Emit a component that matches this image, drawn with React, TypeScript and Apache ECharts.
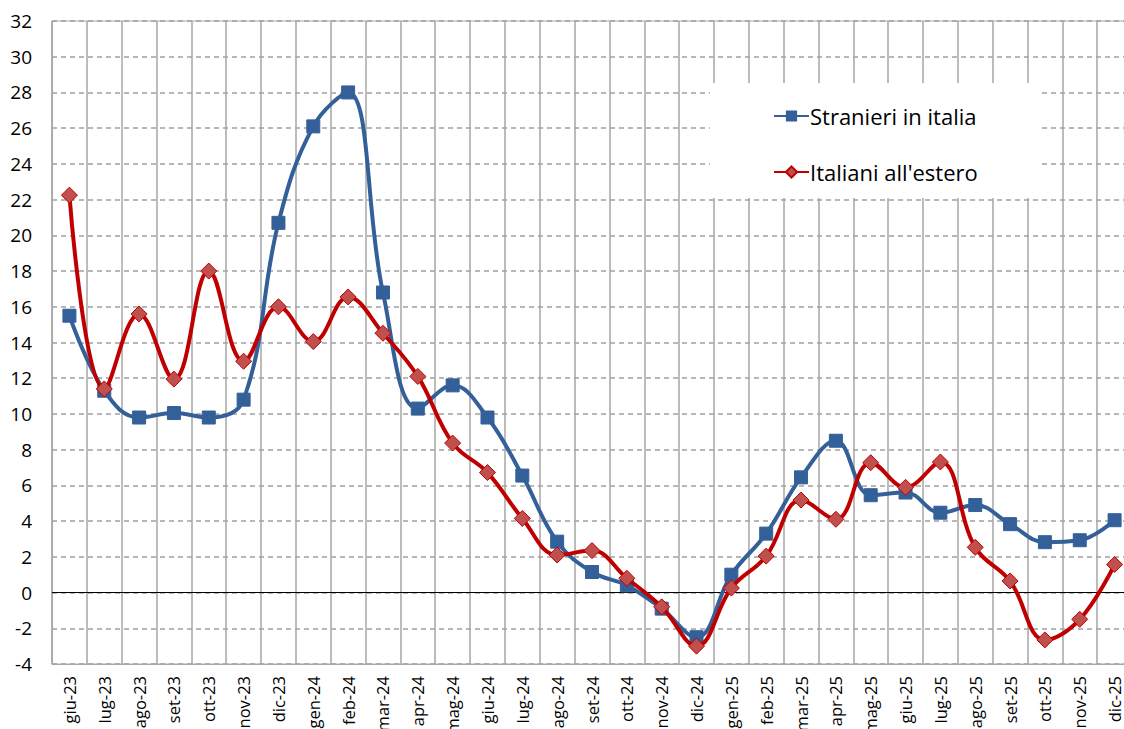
import React, { useEffect, useRef } from "react";
import * as echarts from "echarts";

const categories = [
  "giu-23", "lug-23", "ago-23", "set-23", "ott-23", "nov-23", "dic-23",
  "gen-24", "feb-24", "mar-24", "apr-24", "mag-24", "giu-24", "lug-24",
  "ago-24", "set-24", "ott-24", "nov-24", "dic-24",
  "gen-25", "feb-25", "mar-25", "apr-25", "mag-25", "giu-25", "lug-25",
  "ago-25", "set-25", "ott-25", "nov-25", "dic-25",
];

const stranieri = [
  15.5, 11.3, 9.8, 10.05, 9.8, 10.8, 20.7,
  26.1, 28.0, 16.8, 10.3, 11.6, 9.8, 6.55,
  2.85, 1.15, 0.4, -0.9, -2.5,
  1.0, 3.3, 6.45, 8.5, 5.45, 5.6, 4.47,
  4.9, 3.83, 2.82, 2.93, 4.05,
];

const italiani = [
  22.25, 11.4, 15.6, 11.95, 18.0, 12.95, 16.0,
  14.05, 16.55, 14.52, 12.1, 8.37, 6.72, 4.15,
  2.1, 2.35, 0.8, -0.8, -3.0,
  0.25, 2.04, 5.18, 4.1, 7.27, 5.89, 7.31,
  2.53, 0.65, -2.65, -1.5, 1.57,
];

const FONT = "'Open Sans', sans-serif";
const BLUE = "#34609A";
const RED = "#C00000";
const RED_FILL = "#C0504D";

export default function App() {
  const ref = useRef<HTMLDivElement>(null);
  useEffect(() => {
    if (!ref.current) return;
    const chart = echarts.init(ref.current, undefined, { renderer: "svg" });
    chart.setOption({
      animation: false,
      backgroundColor: "#ffffff",
      grid: {
        left: 52,
        right: -8,
        top: 21,
        bottom: 65,
        containLabel: false,
        outerBoundsMode: "none",
        show: true,
        borderColor: "#A6A6A6",
        borderWidth: 1,
        backgroundColor: "transparent",
      },
      graphic: [
        {
          type: "rect",
          left: 710,
          top: 83,
          shape: { width: 330, height: 115 },
          style: { fill: "#ffffff" },
          z: 3,
        },
      ],
      legend: {
        orient: "vertical",
        left: 768,
        top: 100,
        itemWidth: 35,
        itemHeight: 14,
        itemGap: 34,
        z: 10,
        textStyle: { fontFamily: FONT, fontSize: 22, color: "#000", padding: [0, 0, 0, -4] },
        data: ["Stranieri in italia", "Italiani all'estero"],
      },
      xAxis: {
        type: "category",
        data: categories,
        boundaryGap: true,
        axisLine: { onZero: false, lineStyle: { color: "#A6A6A6", width: 1 } },
        axisTick: { show: false },
        axisLabel: {
          rotate: 90,
          interval: 0,
          margin: 12,
          fontFamily: FONT,
          fontSize: 16.5,
          color: "#000",
        },
        splitLine: {
          show: true,
          interval: 0,
          lineStyle: { color: "#A6A6A6", width: 1.5, type: "solid" },
        },
      },
      yAxis: {
        type: "value",
        min: -4,
        max: 32,
        interval: 2,
        axisLine: { show: true, lineStyle: { color: "#A6A6A6" } },
        axisTick: { show: false },
        axisLabel: { fontFamily: FONT, fontSize: 19, color: "#000", margin: 20 },
        splitLine: {
          show: true,
          lineStyle: { color: "#A0A0A0", type: [5, 4], width: 1.5 },
        },
      },
      series: [
        {
          name: "Stranieri in italia",
          type: "line",
          data: stranieri,
          smooth: 0.4,
          symbol: "rect",
          symbolSize: 13,
          lineStyle: { color: BLUE, width: 4 },
          itemStyle: { color: BLUE, borderColor: BLUE },
          z: 3,
          markLine: {
            silent: true,
            symbol: "none",
            label: { show: false },
            lineStyle: { color: "#000", type: "solid", width: 1.2 },
            data: [{ yAxis: 0 }],
            z: 1,
          },
        },
        {
          name: "Italiani all'estero",
          type: "line",
          data: italiani,
          smooth: 0.4,
          symbol: "diamond",
          symbolSize: 16,
          lineStyle: { color: RED, width: 4 },
          itemStyle: { color: RED_FILL, borderColor: RED, borderWidth: 1 },
          z: 4,
        },
      ],
    });
    return () => chart.dispose();
  }, []);
  return (
    <div
      ref={ref}
      style={{ position: "fixed", left: 0, top: 0, width: 1124, height: 729 }}
    />
  );
}
